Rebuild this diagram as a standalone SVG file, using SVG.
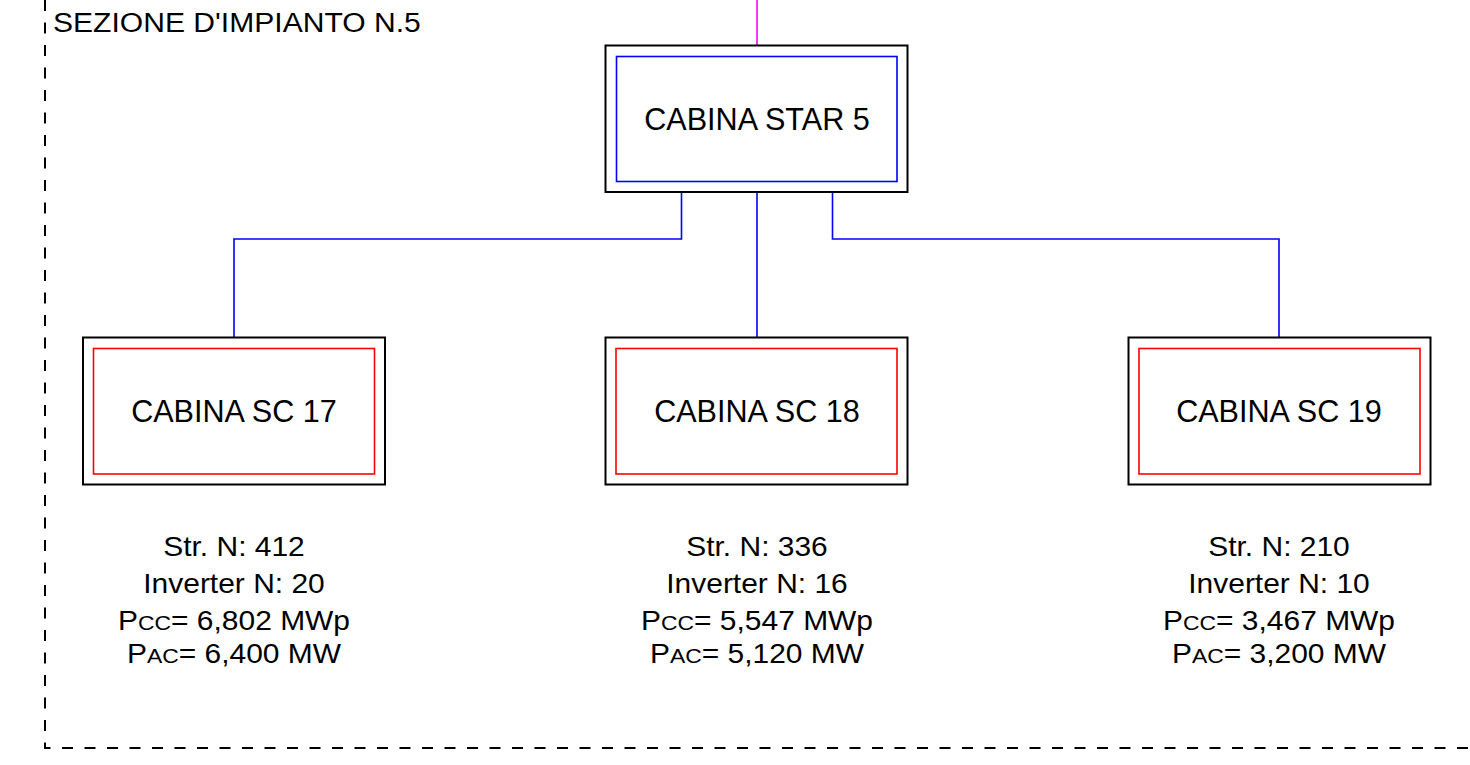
<svg xmlns="http://www.w3.org/2000/svg" width="1470" height="765" viewBox="0 0 1470 765">
<style>
.outer{fill:none;stroke:#000;stroke-width:2}
.inS{fill:none;stroke:#0000ff;stroke-width:1.6}
.inC{fill:none;stroke:#ff0000;stroke-width:1.6}
.conn{fill:none;stroke:#0000ff;stroke-width:1.6}
.lbl{font-family:"Liberation Sans",Arial,sans-serif;font-size:30.6px;fill:#000;text-anchor:middle}
.info{font-family:"Liberation Sans",Arial,sans-serif;font-size:27.5px;fill:#000;text-anchor:middle}
.sm{font-size:21px}
</style>
<rect width="1470" height="765" fill="#fff"/>
<g id="section">
<path d="M45,0 V748 H1470" fill="none" stroke="#000" stroke-width="2" stroke-dasharray="11 11.5"/>
<text transform="translate(53,32) scale(1.09,1)" font-family="'Liberation Sans',Arial,sans-serif" font-size="27.6" fill="#000">SEZIONE D'IMPIANTO N.5</text>
</g>
<g id="connectors">
<line x1="757" y1="0" x2="757" y2="45" stroke="#ff00ff" stroke-width="1.6"/>
<path class="conn" d="M681.5,192 V239 H234 V338"/>
<path class="conn" d="M757,192 V338"/>
<path class="conn" d="M832.5,192 V239 H1279 V338"/>
</g>
<g id="star5">
<rect class="outer" x="605.5" y="45.5" width="302" height="146.5"/>
<rect class="inS" x="616.5" y="56.5" width="280.5" height="125"/>
<text class="lbl" x="757" y="129.5">CABINA STAR 5</text>
</g>
<g id="sc17">
<rect class="outer" x="83" y="337.5" width="302" height="147"/>
<rect class="inC" x="93.5" y="348.5" width="281" height="125.5"/>
<text class="lbl" x="234" y="421.5">CABINA SC 17</text>
</g>
<g id="sc18">
<rect class="outer" x="605.5" y="337.5" width="302" height="147"/>
<rect class="inC" x="616" y="348.5" width="281" height="125.5"/>
<text class="lbl" x="757" y="421.5">CABINA SC 18</text>
</g>
<g id="sc19">
<rect class="outer" x="1128.5" y="337.5" width="302" height="147"/>
<rect class="inC" x="1139" y="348.5" width="281" height="125.5"/>
<text class="lbl" x="1279" y="421.5">CABINA SC 19</text>
</g>
<g id="info17" transform="translate(234,0) scale(1.09,1)">
<text class="info" x="0" y="556.5">Str. N: 412</text>
<text class="info" x="0" y="593">Inverter N: 20</text>
<text class="info" x="0" y="630">P<tspan class="sm">CC</tspan>= 6,802 MWp</text>
<text class="info" x="0" y="663">P<tspan class="sm">AC</tspan>= 6,400 MW</text>
</g>
<g id="info18" transform="translate(757,0) scale(1.09,1)">
<text class="info" x="0" y="556.5">Str. N: 336</text>
<text class="info" x="0" y="593">Inverter N: 16</text>
<text class="info" x="0" y="630">P<tspan class="sm">CC</tspan>= 5,547 MWp</text>
<text class="info" x="0" y="663">P<tspan class="sm">AC</tspan>= 5,120 MW</text>
</g>
<g id="info19" transform="translate(1279,0) scale(1.09,1)">
<text class="info" x="0" y="556.5">Str. N: 210</text>
<text class="info" x="0" y="593">Inverter N: 10</text>
<text class="info" x="0" y="630">P<tspan class="sm">CC</tspan>= 3,467 MWp</text>
<text class="info" x="0" y="663">P<tspan class="sm">AC</tspan>= 3,200 MW</text>
</g>
</svg>
